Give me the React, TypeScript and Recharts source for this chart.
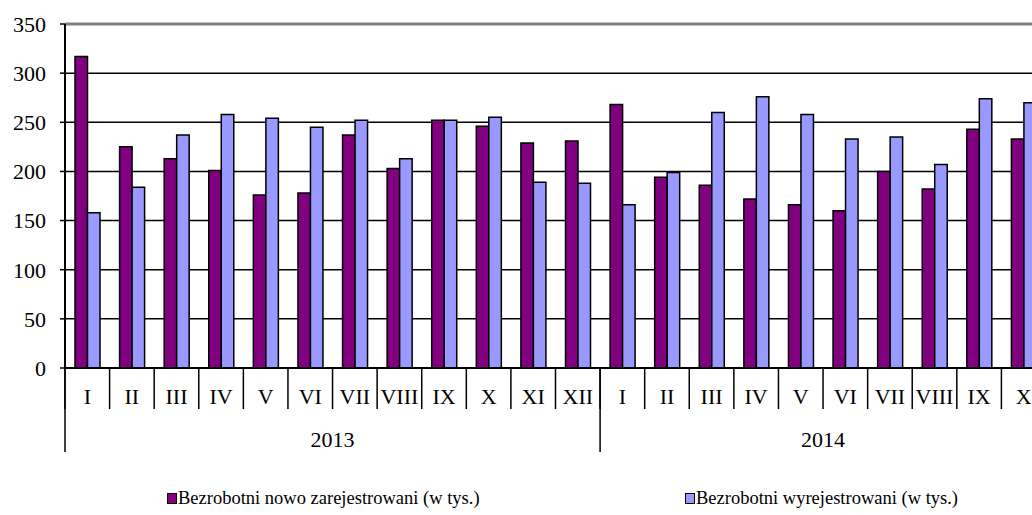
import React from 'react';
import { BarChart, Bar, XAxis, YAxis, CartesianGrid, Legend, ReferenceLine } from 'recharts';

const months = ['I', 'II', 'III', 'IV', 'V', 'VI', 'VII', 'VIII', 'IX', 'X', 'XI', 'XII', 'I', 'II', 'III', 'IV', 'V', 'VI', 'VII', 'VIII', 'IX', 'X'];
const years = ['2013', '2013', '2013', '2013', '2013', '2013', '2013', '2013', '2013', '2013', '2013', '2013', '2014', '2014', '2014', '2014', '2014', '2014', '2014', '2014', '2014', '2014'];
const nowoZarejestrowani = [317, 225, 213, 201, 176, 178, 237, 203, 252, 246, 229, 231, 268, 194, 186, 172, 166, 160, 200, 182, 243, 233];
const wyrejestrowani = [158, 184, 237, 258, 254, 245, 252, 213, 252, 255, 189, 188, 166, 199, 260, 276, 258, 233, 235, 207, 274, 270];
const yTicks = [0, 50, 100, 150, 200, 250, 300, 350];

const data = months.map((m, i) => ({
  key: `${years[i]}-${m}-${i}`,
  month: m,
  year: years[i],
  nowo: nowoZarejestrowani[i],
  wyrej: wyrejestrowani[i],
}));

const CHART_W = 1050;
const CHART_H = 515;
const Y_AXIS_W = 65;
const MARGIN = { top: 24, right: 4, left: 0, bottom: 0 };
const PLOT_W = CHART_W - MARGIN.left - MARGIN.right - Y_AXIS_W;
const BW = PLOT_W / months.length;
const PLOT_BOTTOM = 368;
const FONT = '"Liberation Serif", "Times New Roman", serif';
const AXIS_FONT_SIZE = 22;

const MonthTick = (props: any) => {
  const { x, index } = props;
  const left = x - BW / 2;
  return (
    <g>
      <text x={x} y={396} textAnchor="middle" dominantBaseline="central" fontFamily={FONT} fontSize={AXIS_FONT_SIZE} fill="#000">
        {months[index]}
      </text>
      <line x1={left} y1={PLOT_BOTTOM} x2={left} y2={409} stroke="#000" strokeWidth={1.5} />
      {index === months.length - 1 && (
        <line x1={x + BW / 2} y1={PLOT_BOTTOM} x2={x + BW / 2} y2={409} stroke="#000" strokeWidth={1.5} />
      )}
    </g>
  );
};

const YearTick = (props: any) => {
  const { x, index } = props;
  const y = years[index];
  if (index > 0 && years[index - 1] === y) return <g />;
  const n = years.filter((v) => v === y).length;
  const left = x - BW / 2;
  return (
    <g>
      <line x1={left} y1={PLOT_BOTTOM} x2={left} y2={452} stroke="#000" strokeWidth={1.5} />
      <text x={left + (n * BW) / 2} y={439} textAnchor="middle" dominantBaseline="central" fontFamily={FONT} fontSize={AXIS_FONT_SIZE} fill="#000">
        {y}
      </text>
    </g>
  );
};

const LegendContent = () => {
  const items = [
    { label: 'Bezrobotni nowo zarejestrowani (w tys.)', color: '#800080', left: 167 },
    { label: 'Bezrobotni wyrejestrowani (w tys.)', color: '#9999FF', left: 685 },
  ];
  return (
    <div style={{ position: 'relative', height: 63, fontFamily: FONT, fontSize: 18.5, color: '#000' }}>
      {items.map((it) => (
        <div key={it.label} style={{ position: 'absolute', left: it.left, top: 36, display: 'flex', alignItems: 'center', whiteSpace: 'nowrap', lineHeight: '20px' }}>
          <span style={{ display: 'inline-block', width: 8, height: 9, background: it.color, border: '1.5px solid #000', marginRight: 1 }} />
          <span>{it.label}</span>
        </div>
      ))}
    </div>
  );
};

export default function App() {
  return (
    <div style={{ position: 'fixed', left: 0, top: 0, width: 1032, height: 515, overflow: 'hidden', background: '#fff' }}>
      <BarChart width={CHART_W} height={CHART_H} data={data} margin={MARGIN} barGap={0} barSize={12.5}>
        <CartesianGrid vertical={false} stroke="#000" strokeWidth={1.5} />
        <XAxis
          dataKey="key"
          xAxisId={0}
          interval={0}
          height={42}
          axisLine={{ stroke: '#000', strokeWidth: 2 }}
          tickLine={false}
          tick={<MonthTick />}
        />
        <XAxis
          dataKey="key"
          xAxisId="year"
          interval={0}
          height={42}
          axisLine={false}
          tickLine={false}
          tick={<YearTick />}
        />
        <YAxis
          width={Y_AXIS_W}
          domain={[0, 350]}
          ticks={yTicks}
          interval={0}
          axisLine={{ stroke: '#000', strokeWidth: 2 }}
          tickLine={{ stroke: '#000', strokeWidth: 1.5 }}
          tickSize={5}
          tickMargin={14}
          tick={{ fontFamily: FONT, fontSize: AXIS_FONT_SIZE, fill: '#000' }}
        />
        <ReferenceLine y={350} stroke="#808080" strokeWidth={3} />
        <Bar dataKey="nowo" name="Bezrobotni nowo zarejestrowani (w tys.)" fill="#800080" stroke="#000" strokeWidth={1.5} isAnimationActive={false} />
        <Bar dataKey="wyrej" name="Bezrobotni wyrejestrowani (w tys.)" fill="#9999FF" stroke="#000" strokeWidth={1.5} isAnimationActive={false} />
        <Legend verticalAlign="bottom" content={<LegendContent />} />
      </BarChart>
    </div>
  );
}
